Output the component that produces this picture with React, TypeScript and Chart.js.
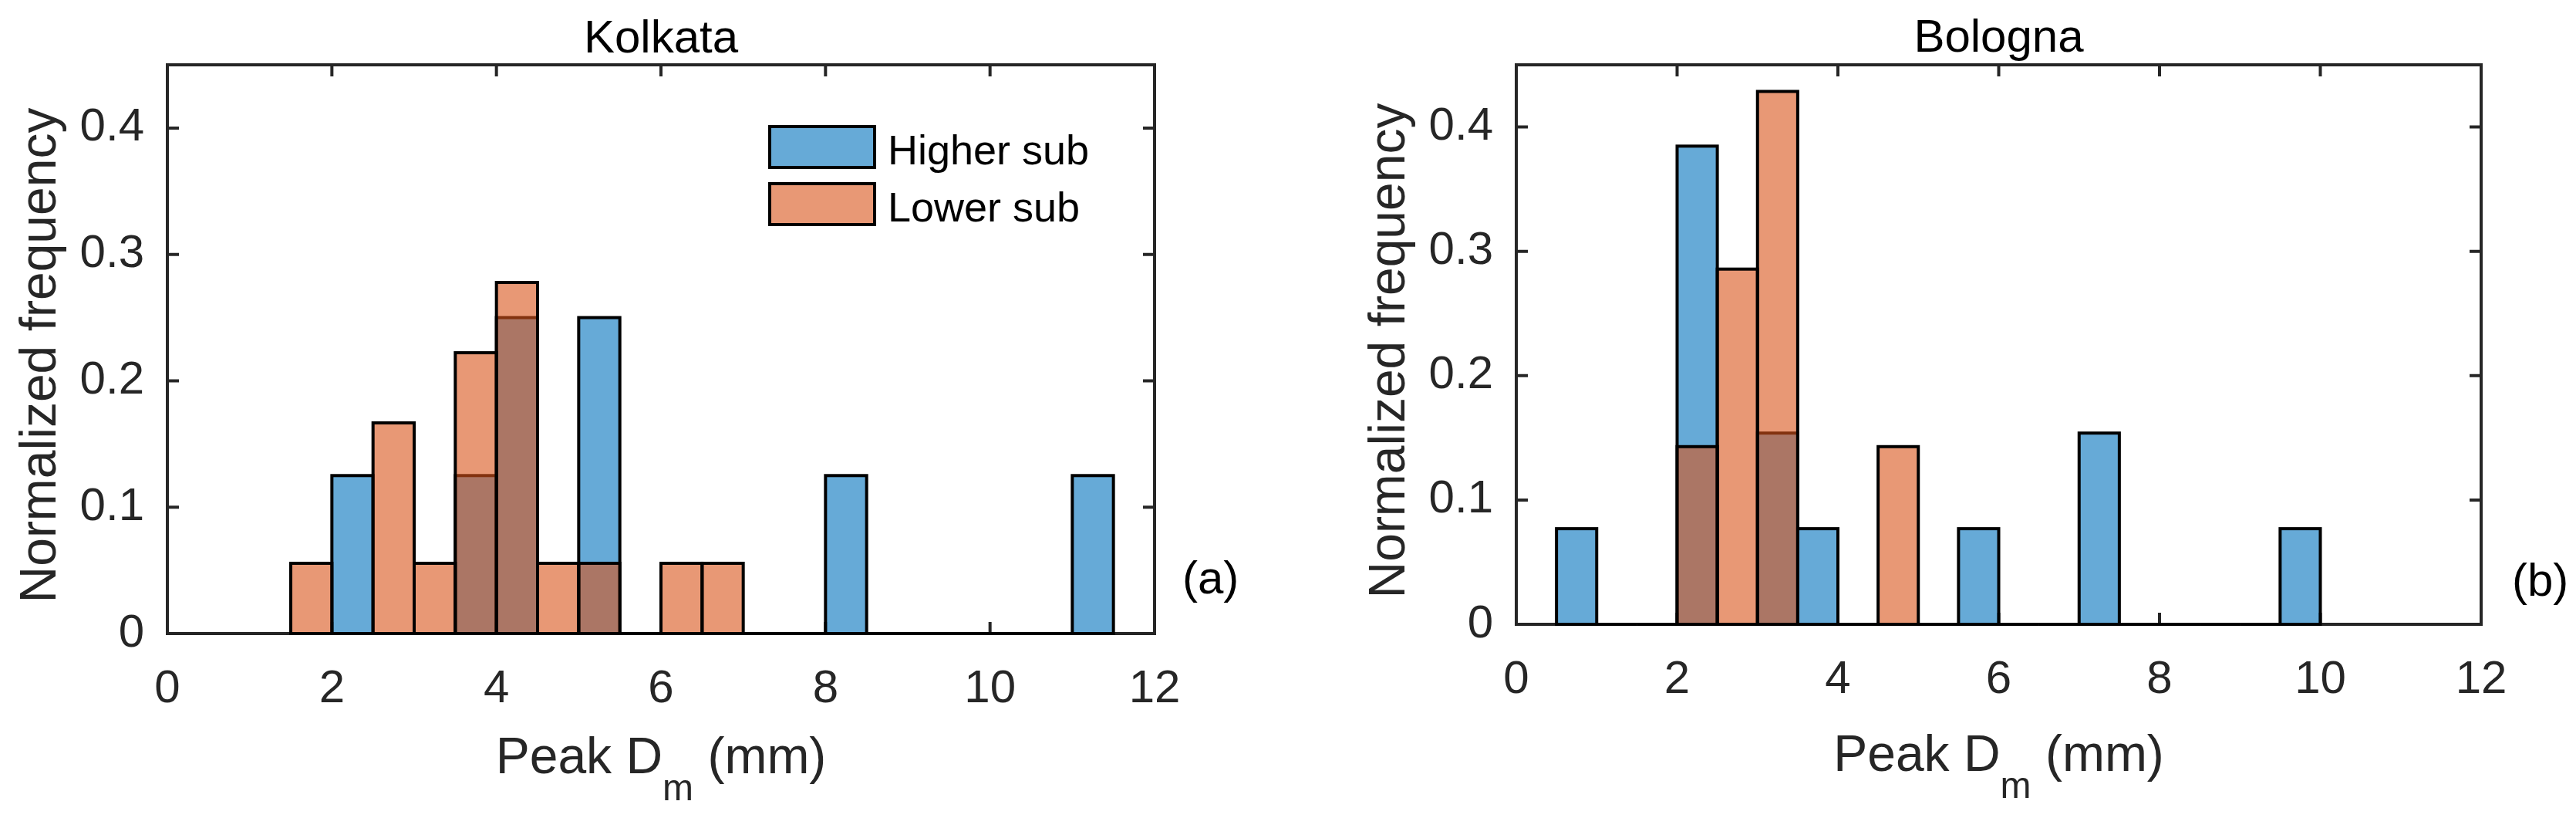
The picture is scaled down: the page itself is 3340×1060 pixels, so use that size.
import React, { useEffect, useRef } from 'react';
import { Chart, registerables } from 'chart.js';

Chart.register(...registerables);

const FONT = '"Liberation Sans", Arial, Helvetica, sans-serif';
const AXIS_COLOR = '#262626';
const HIGHER_FILL = 'rgba(0, 114, 189, 0.6)';
const LOWER_FILL = 'rgba(217, 83, 25, 0.6)';

const seriesNames = ['Higher sub', 'Lower sub'];
const panelTitles = ['Kolkata', 'Bologna'];
const panelTags = ['(a)', '(b)'];
const xLabelParts = ['Peak D', 'm', ' (mm)'];
const yLabelText = 'Normalized frequency';

const xTickValues = [0, 2, 4, 6, 8, 10, 12];
const xTickLabels = ['0', '2', '4', '6', '8', '10', '12'];
const yTickValues = [0, 0.1, 0.2, 0.3, 0.4];
const yTickLabels = ['0', '0.1', '0.2', '0.3', '0.4'];
const xLimits = [0, 12];
const yLimits = [0, 0.45];

// Kolkata: bin centres (0.5 mm bins) and normalized frequencies
const kolkataHigherBins = [2.25, 2.75, 3.25, 3.75, 4.25, 4.75, 5.25, 5.75, 6.25, 6.75, 7.25, 7.75, 8.25, 8.75, 9.25, 9.75, 10.25, 10.75, 11.25];
const kolkataHigherFreq = [0.125, 0, 0, 0.125, 0.25, 0, 0.25, 0, 0, 0, 0, 0, 0.125, 0, 0, 0, 0, 0, 0.125];
const kolkataLowerBins = [1.75, 2.25, 2.75, 3.25, 3.75, 4.25, 4.75, 5.25, 5.75, 6.25, 6.75];
const kolkataLowerFreq = [0.0556, 0, 0.1667, 0.0556, 0.2222, 0.2778, 0.0556, 0.0556, 0, 0.0556, 0.0556];

// Bologna
const bolognaHigherBins = [0.75, 1.25, 1.75, 2.25, 2.75, 3.25, 3.75, 4.25, 4.75, 5.25, 5.75, 6.25, 6.75, 7.25, 7.75, 8.25, 8.75, 9.25, 9.75];
const bolognaHigherFreq = [0.0769, 0, 0, 0.3846, 0, 0.1538, 0.0769, 0, 0, 0, 0.0769, 0, 0, 0.1538, 0, 0, 0, 0, 0.0769];
const bolognaLowerBins = [2.25, 2.75, 3.25, 3.75, 4.25, 4.75];
const bolognaLowerFreq = [0.1429, 0.2857, 0.4286, 0, 0, 0.1429];

const CANVAS_W = 1670;
const CANVAS_H = 1060;

type Geo = {
  offsetX: number;
  left: number;
  right: number;
  top: number;
  bottom: number;
  titleBaseline: number;
  xLabelBaseline: number;
  yLabelOffset: number;
  tagX: number;
  tagBaseline: number;
  legend: boolean;
};

const geos: Geo[] = [
  { offsetX: 0, left: 217, right: 1497, top: 84, bottom: 821, titleBaseline: 68, xLabelBaseline: 1002, yLabelOffset: 145, tagX: 1533, tagBaseline: 769, legend: true },
  { offsetX: 1670, left: 296, right: 1547, top: 84, bottom: 809, titleBaseline: 67, xLabelBaseline: 999, yLabelOffset: 145, tagX: 1587, tagBaseline: 772, legend: false },
];

const panelData = [
  { higherBins: kolkataHigherBins, higherFreq: kolkataHigherFreq, lowerBins: kolkataLowerBins, lowerFreq: kolkataLowerFreq },
  { higherBins: bolognaHigherBins, higherFreq: bolognaHigherFreq, lowerBins: bolognaLowerBins, lowerFreq: bolognaLowerFreq },
];

function makePlugin(idx: number, geo: Geo) {
  return {
    id: 'matlabLook' + idx,
    beforeDatasetsDraw(chart: any) {
      const { ctx, chartArea: a, scales } = chart;
      ctx.save();
      ctx.strokeStyle = AXIS_COLOR;
      ctx.lineWidth = 4;
      ctx.lineJoin = 'miter';
      ctx.strokeRect(a.left, a.top, a.right - a.left, a.bottom - a.top);
      ctx.beginPath();
      for (const t of scales.x.ticks) {
        const px = scales.x.getPixelForValue(t.value);
        ctx.moveTo(px, a.bottom);
        ctx.lineTo(px, a.bottom - 15);
        ctx.moveTo(px, a.top);
        ctx.lineTo(px, a.top + 15);
      }
      for (const t of scales.y.ticks) {
        const py = scales.y.getPixelForValue(t.value);
        ctx.moveTo(a.left, py);
        ctx.lineTo(a.left + 15, py);
        ctx.moveTo(a.right, py);
        ctx.lineTo(a.right - 15, py);
      }
      ctx.stroke();
      ctx.restore();
    },
    afterDatasetDraw(chart: any, args: any) {
      const ctx = chart.ctx;
      ctx.save();
      ctx.strokeStyle = '#000000';
      ctx.lineWidth = 4;
      ctx.lineJoin = 'miter';
      for (const el of args.meta.data) {
        const p = el.getProps(['x', 'y', 'base', 'width'], true);
        const l = p.x - p.width / 2;
        const t = Math.min(p.y, p.base);
        const h = Math.abs(p.base - p.y);
        if (h < 0.5) {
          ctx.beginPath();
          ctx.moveTo(l, p.base);
          ctx.lineTo(l + p.width, p.base);
          ctx.stroke();
        } else {
          ctx.strokeRect(l, t, p.width, h);
        }
      }
      ctx.restore();
    },
    afterDraw(chart: any) {
      const { ctx, chartArea: a } = chart;
      const cx = (a.left + a.right) / 2;
      ctx.save();
      // title
      ctx.fillStyle = '#000000';
      ctx.font = `60px ${FONT}`;
      ctx.textAlign = 'center';
      ctx.textBaseline = 'alphabetic';
      ctx.fillText(panelTitles[idx], cx, geo.titleBaseline);

      // x label with subscript
      ctx.fillStyle = AXIS_COLOR;
      const mainFont = `66px ${FONT}`;
      const subFont = `48px ${FONT}`;
      ctx.textAlign = 'left';
      ctx.font = mainFont;
      const w0 = ctx.measureText(xLabelParts[0]).width;
      const w2 = ctx.measureText(xLabelParts[2]).width;
      ctx.font = subFont;
      const w1 = ctx.measureText(xLabelParts[1]).width;
      let x = cx - (w0 + w1 + w2) / 2;
      ctx.font = mainFont;
      ctx.fillText(xLabelParts[0], x, geo.xLabelBaseline);
      x += w0;
      ctx.font = subFont;
      ctx.fillText(xLabelParts[1], x, geo.xLabelBaseline + 35);
      x += w1;
      ctx.font = mainFont;
      ctx.fillText(xLabelParts[2], x, geo.xLabelBaseline);

      // y label
      ctx.save();
      ctx.translate(a.left - geo.yLabelOffset, (a.top + a.bottom) / 2 + 8);
      ctx.rotate(-Math.PI / 2);
      ctx.textAlign = 'center';
      ctx.font = mainFont;
      ctx.fillText(yLabelText, 0, 0);
      ctx.restore();

      // panel tag
      ctx.fillStyle = '#000000';
      ctx.font = `60px ${FONT}`;
      ctx.textAlign = 'left';
      ctx.fillText(panelTags[idx], geo.tagX, geo.tagBaseline);

      // legend
      if (geo.legend) {
        const ds = chart.data.datasets;
        const order = [0, 1];
        const boxL = a.right - 499;
        const boxW = 136;
        const boxH = 53;
        const tops = [a.top + 80, a.top + 154];
        ctx.font = `54px ${FONT}`;
        order.forEach((di, k) => {
          const d = ds[di];
          ctx.fillStyle = '#ffffff';
          ctx.fillRect(boxL, tops[k], boxW, boxH);
          ctx.fillStyle = d.backgroundColor;
          ctx.fillRect(boxL, tops[k], boxW, boxH);
          ctx.strokeStyle = '#000000';
          ctx.lineWidth = 4;
          ctx.strokeRect(boxL, tops[k], boxW, boxH);
          ctx.fillStyle = '#000000';
          ctx.fillText(d.label, boxL + boxW + 17, tops[k] + 49);
        });
      }
      ctx.restore();
    },
  };
}

function HistPanel({ idx }: { idx: number }) {
  const ref = useRef<HTMLCanvasElement>(null);
  useEffect(() => {
    const geo = geos[idx];
    const pd = panelData[idx];
    const chart = new Chart(ref.current as HTMLCanvasElement, {
      type: 'bar',
      data: {
        datasets: [
          {
            label: seriesNames[0],
            data: pd.higherBins.map((b, i) => ({ x: b, y: pd.higherFreq[i] })),
            backgroundColor: HIGHER_FILL,
            borderWidth: 0,
            inflateAmount: 0,
            barPercentage: 1,
            categoryPercentage: 1,
            grouped: false,
            order: 2,
          } as any,
          {
            label: seriesNames[1],
            data: pd.lowerBins.map((b, i) => ({ x: b, y: pd.lowerFreq[i] })),
            backgroundColor: LOWER_FILL,
            borderWidth: 0,
            inflateAmount: 0,
            barPercentage: 1,
            categoryPercentage: 1,
            grouped: false,
            order: 1,
          } as any,
        ],
      },
      options: {
        responsive: false,
        animation: false,
        devicePixelRatio: 1,
        events: [],
        layout: { padding: { left: 0, top: geo.top, right: CANVAS_W - geo.right, bottom: 0 } },
        plugins: {
          legend: { display: false },
          title: { display: false },
          tooltip: { enabled: false },
        },
        scales: {
          x: {
            type: 'linear',
            min: xLimits[0],
            max: xLimits[1],
            offset: false,
            grid: { display: false, drawTicks: false, offset: false },
            border: { display: false },
            afterBuildTicks: (s: any) => {
              s.ticks = xTickValues.map((v) => ({ value: v }));
            },
            afterFit: (s: any) => {
              s.height = CANVAS_H - geo.bottom;
            },
            ticks: {
              autoSkip: false,
              maxRotation: 0,
              minRotation: 0,
              padding: 36,
              color: AXIS_COLOR,
              font: { family: FONT, size: 60 },
              callback: (_v: any, i: number) => xTickLabels[i],
            },
          },
          y: {
            type: 'linear',
            min: yLimits[0],
            max: yLimits[1],
            grid: { display: false, drawTicks: false },
            border: { display: false },
            afterBuildTicks: (s: any) => {
              s.ticks = yTickValues.map((v) => ({ value: v }));
            },
            afterFit: (s: any) => {
              s.width = geo.left;
            },
            ticks: {
              autoSkip: false,
              padding: 30,
              color: AXIS_COLOR,
              font: { family: FONT, size: 60 },
              callback: (_v: any, i: number) => yTickLabels[i],
            },
          },
        } as any,
      },
      plugins: [makePlugin(idx, geo) as any],
    });
    return () => chart.destroy();
  }, [idx]);
  return (
    <canvas
      ref={ref}
      width={CANVAS_W}
      height={CANVAS_H}
      style={{ position: 'absolute', left: geos[idx].offsetX, top: 0, width: CANVAS_W, height: CANVAS_H, display: 'block' }}
    />
  );
}

export default function App() {
  return (
    <div style={{ position: 'absolute', left: 0, top: 0, width: 3340, height: 1060, background: '#ffffff', overflow: 'hidden' }}>
      <HistPanel idx={0} />
      <HistPanel idx={1} />
    </div>
  );
}
